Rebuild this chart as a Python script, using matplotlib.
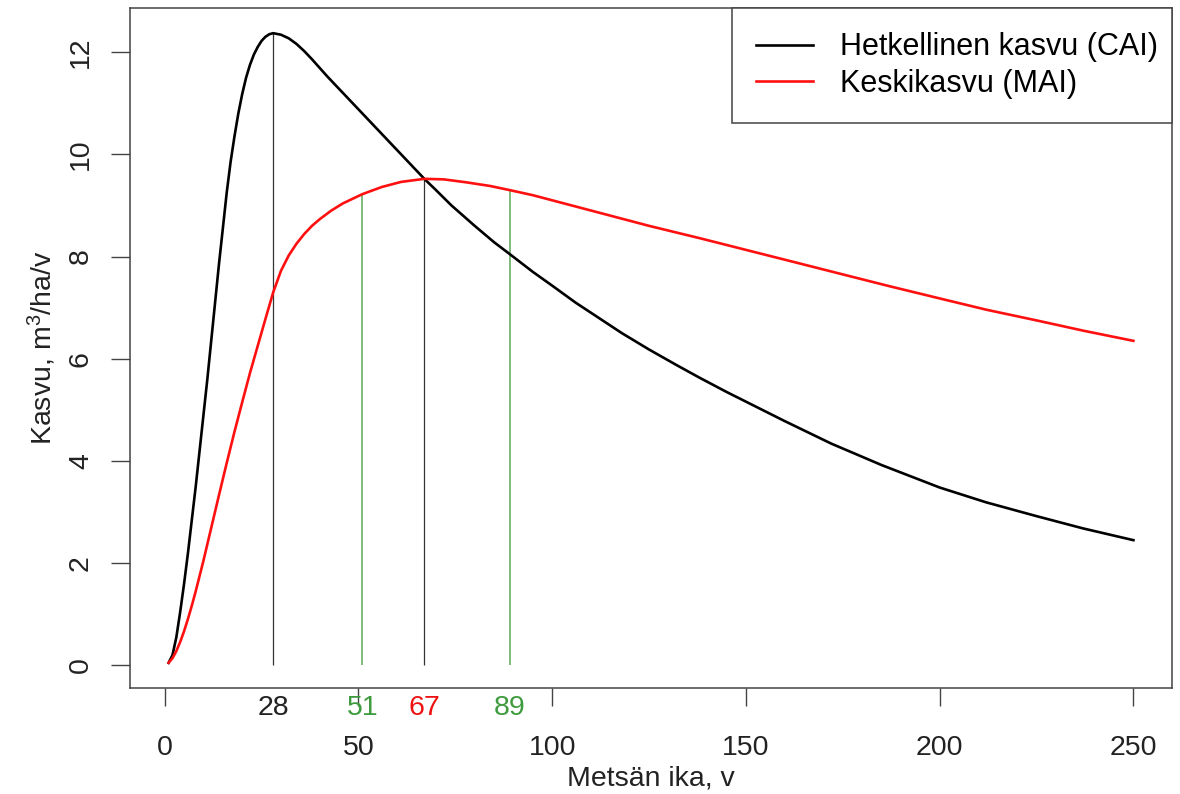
import numpy as np
import matplotlib
matplotlib.use("Agg")
from matplotlib import pyplot as plt
from matplotlib.transforms import blended_transform_factory

plt.rcParams['font.family'] = ['Liberation Sans', 'DejaVu Sans']
plt.rcParams['mathtext.fontset'] = 'custom'
plt.rcParams['mathtext.rm'] = 'Liberation Sans'
plt.rcParams['mathtext.it'] = 'Liberation Sans'

# luettu kuvasta: hetkellinen kasvu (CAI)
ika_cai = [1, 2, 3, 4, 5, 6, 7, 8, 9, 10, 11, 12, 13, 14, 15, 16, 17, 18, 19, 20,
           21, 22, 23, 24, 25, 26, 27, 28, 30, 32, 34, 36, 38, 40, 42, 45, 48, 52, 56,
           61, 67, 70, 74, 80, 85, 89, 95, 100, 106, 112, 118, 125, 132, 138, 145,
           150, 160, 172, 185, 200, 212, 225, 237, 250]
cai = [0.05, 0.2, 0.55, 1.05, 1.6, 2.2, 2.85, 3.5, 4.2, 4.9, 5.6, 6.35, 7.1, 7.85,
       8.55, 9.25, 9.85, 10.35, 10.8, 11.18, 11.5, 11.75, 11.95, 12.1, 12.22, 12.3,
       12.35, 12.37, 12.34, 12.27, 12.16, 12.02, 11.86, 11.69, 11.52, 11.28, 11.04,
       10.72, 10.4, 10.0, 9.52, 9.3, 9.0, 8.6, 8.28, 8.05, 7.7, 7.43, 7.1, 6.8, 6.5,
       6.18, 5.88, 5.63, 5.35, 5.16, 4.78, 4.34, 3.92, 3.48, 3.19, 2.92, 2.68, 2.45]

# keskikasvu (MAI)
ika_mai = [1, 2, 3, 4, 5, 6, 7, 8, 9, 10, 11, 12, 14, 16, 18, 20, 22, 24, 26, 28, 30,
           32, 34, 36, 38, 40, 43, 46, 51, 56, 61, 67, 72, 78, 84, 89, 95, 100, 112,
           125, 138, 150, 162, 175, 187, 200, 212, 225, 237, 250]
mai = [0.05, 0.14, 0.28, 0.46, 0.67, 0.91, 1.17, 1.45, 1.75, 2.05, 2.37, 2.69, 3.33,
       3.96, 4.57, 5.15, 5.72, 6.25, 6.78, 7.3, 7.72, 8.02, 8.25, 8.44, 8.6, 8.73,
       8.9, 9.04, 9.22, 9.36, 9.46, 9.52, 9.51, 9.45, 9.38, 9.30, 9.2, 9.1, 8.86,
       8.6, 8.36, 8.13, 7.9, 7.65, 7.42, 7.18, 6.96, 6.75, 6.55, 6.35]

# pystyviivat
musta_x = [28, 67]
musta_y = [12.37, 9.52]
vihrea_x = [51, 89]
vihrea_y = [9.22, 9.30]

merkit = ["28", "51", "67", "89"]
merkit_x = [28, 51, 67, 89]
merkit_vari = ["#222222", "#3e9b3e", "#ee1111", "#3e9b3e"]

vihrea = "#5aa85a"
fs = 20.5

fig = plt.figure(figsize=(11.8, 7.94), dpi=100)
ax = fig.add_axes([130 / 1180, 106 / 794, 1042 / 1180, 680 / 794])

ax.vlines(musta_x, 0, musta_y, color="#333333", lw=0.9)
ax.vlines(vihrea_x, 0, vihrea_y, color=vihrea, lw=1.1)
ax.plot(ika_cai, cai, color="black", lw=1.9, label="Hetkellinen kasvu (CAI)")
ax.plot(ika_mai, mai, color="#ff1010", lw=1.9, label="Keskikasvu (MAI)")

ax.set_xlim(1 - 0.04 * 249, 250 + 0.04 * 249)
ax.set_ylim(0.05 - 0.04 * 12.32, 12.37 + 0.04 * 12.32)
ax.set_xticks(np.arange(0, 251, 50))
ax.set_yticks(np.arange(0, 13, 2))
ax.tick_params(axis="x", direction="out", length=13, width=1, color="#444444",
               labelsize=fs, pad=21, labelcolor="#222222")
ax.tick_params(axis="y", direction="out", length=14, width=1, color="#444444",
               labelsize=fs, pad=12, labelcolor="#222222", labelrotation=90)
for lab in ax.get_yticklabels():
    lab.set_va("center")
for s in ax.spines.values():
    s.set_color("#444444")
    s.set_linewidth(1.1)

tr = blended_transform_factory(ax.transData, ax.transAxes)
for t, xx, c in zip(merkit, merkit_x, merkit_vari):
    ax.text(xx, -0.01, t, transform=tr, color=c, fontsize=fs, ha="center", va="top")

ax.set_xlabel("Metsän ika, v", fontsize=fs, color="#222222", labelpad=3)
ax.set_ylabel("Kasvu, m$^{3}$/ha/v", fontsize=fs, color="#222222", labelpad=7)

leg = ax.legend(loc="upper left", bbox_to_anchor=(602 / 1042, 0, 440 / 1042, 1.0),
                mode="expand", borderaxespad=0, fancybox=False, framealpha=1,
                edgecolor="#444444", fontsize=22, handlelength=1.85, handletextpad=0.9,
                borderpad=0.8, labelspacing=0.2)
leg.get_frame().set_linewidth(1.1)

fig.savefig("out.png", dpi=100)
